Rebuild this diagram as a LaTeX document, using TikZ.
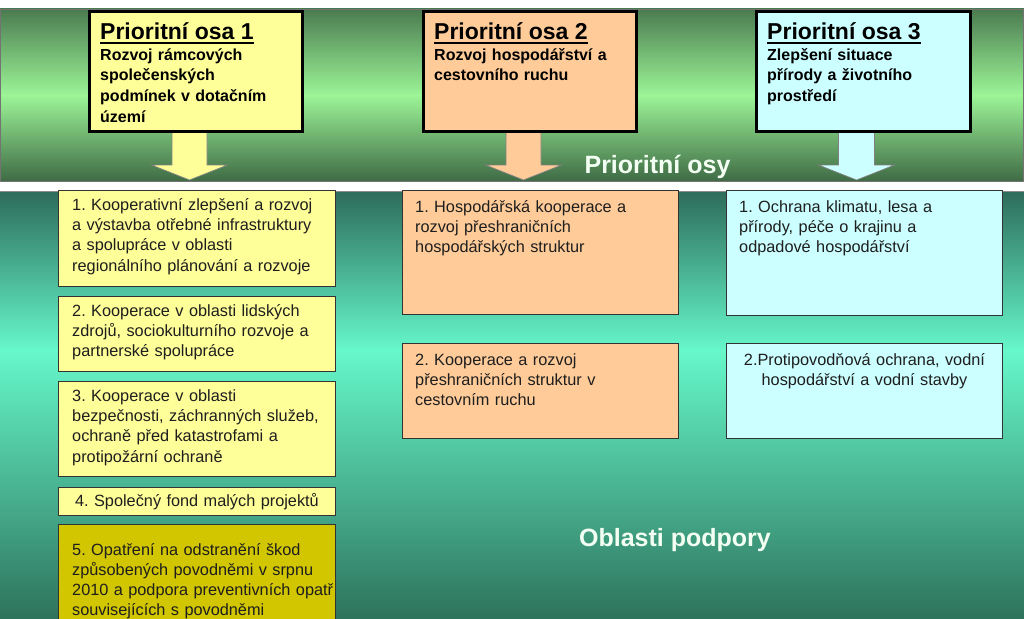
\documentclass[tikz,border=0pt]{standalone}
\usepackage{fontspec}
\setmainfont{Liberation Sans}
\usetikzlibrary{calc}
\frenchspacing
\definecolor{pyellow}{HTML}{FFFF99}
\definecolor{porange}{HTML}{FFCC99}
\definecolor{pcyan}{HTML}{CCFFFF}
\definecolor{pgold}{HTML}{D2C600}
\definecolor{gtop}{HTML}{4B7B50}
\definecolor{glight}{HTML}{9CF597}
\definecolor{gbot}{HTML}{3F6B45}
\definecolor{ttop}{HTML}{2D6C5A}
\definecolor{tlight}{HTML}{66F8CA}
\definecolor{tbot}{HTML}{2E735C}
\definecolor{txt}{HTML}{1E1E1E}
\definecolor{whitish}{HTML}{F4FFF4}
\begin{document}
\begin{tikzpicture}[x=1pt,y=-1pt,
  topbox/.style={draw=black, line width=3pt, anchor=north west, inner sep=0pt},
  lbox/.style={draw=black!80, line width=0.9pt, anchor=north west, inner sep=0pt},
  ttltext/.style={anchor=base west, inner sep=0pt, font=\fontsize{23}{27}\selectfont\bfseries},
  subtext/.style={anchor=base west, inner sep=0pt, align=left, text width=200pt,
    font=\fontsize{16}{20.7}\selectfont\bfseries},
  ltext/.style={anchor=base west, inner sep=0pt, align=left, text width=300pt, text=txt,
    font=\fontsize{16.3}{20.2}\selectfont},
  ctext/.style={anchor=base, inner sep=0pt, align=center, text width=276pt, text=txt,
    font=\fontsize{16.3}{20.2}\selectfont},
  bandlabel/.style={anchor=base, inner sep=0pt, text=whitish,
    font=\fontsize{25}{30}\selectfont\bfseries},
  barrow/.style={draw=black!50, line width=0.7pt},
  uline/.style={line width=1.8pt}
]
\useasboundingbox (0,0) rectangle (1024,618);
% top band
\shade[top color=gtop, bottom color=glight] (0,9) rectangle (1024,95.5);
\shade[top color=glight, bottom color=gbot] (0,95) rectangle (1024,181);
\draw[black!55, line width=0.7pt] (0.4,9) rectangle (1023.6,181);
% bottom band
\shade[top color=ttop, bottom color=tlight] (0,191) rectangle (1024,350.5);
\shade[top color=tlight, bottom color=tbot] (0,350) rectangle (1024,618);
\draw[black!45, line width=0.7pt] (0.4,191) -- (1023.6,191);

% lower boxes
\node[lbox, fill=pyellow, minimum width=277pt, minimum height=96pt] (b11) at (58,190) {};
\node[lbox, fill=pyellow, minimum width=277pt, minimum height=75pt] (b12) at (58,296) {};
\node[lbox, fill=pyellow, minimum width=277pt, minimum height=95pt] (b13) at (58,381) {};
\node[lbox, fill=pyellow, minimum width=277pt, minimum height=28pt] (b14) at (58,487) {};
\node[lbox, fill=pgold, minimum width=277pt, minimum height=110pt] (b15) at (58,524) {};
\node[lbox, fill=porange, minimum width=276pt, minimum height=124pt] (b21) at (402,190) {};
\node[lbox, fill=porange, minimum width=276pt, minimum height=95pt] (b22) at (402,343) {};
\node[lbox, fill=pcyan, minimum width=276pt, minimum height=125pt] (b31) at (726,190) {};
\node[lbox, fill=pcyan, minimum width=276pt, minimum height=95pt] (b32) at (726,343) {};

\node[ltext] (t11) at ($(b11.north west)+(14,20.5)$) {1. Kooperativní zlepšení a rozvoj\\a výstavba otřebné infrastruktury\\a spolupráce v oblasti\\regionálního plánování a rozvoje};
\node[ltext] (t12) at ($(b12.north west)+(14,20.5)$) {2. Kooperace v oblasti lidských\\zdrojů, sociokulturního rozvoje a\\partnerské spolupráce};
\node[ltext] (t13) at ($(b13.north west)+(14,20.5)$) {3. Kooperace v oblasti\\bezpečnosti, záchranných služeb,\\ochraně před katastrofami a\\protipožární ochraně};
\node[ctext] (t14) at ($(b14.north)+(0,19.5)$) {4. Společný fond malých projektů};
\node[ltext] (t15) at ($(b15.north west)+(14,31)$) {5. Opatření na odstranění škod\\způsobených povodněmi v srpnu\\2010 a podpora preventivních opatř\\souvisejících s povodněmi};
\node[ltext] (t21) at ($(b21.north west)+(13,22)$) {1. Hospodářská kooperace a\\rozvoj přeshraničních\\hospodářských struktur};
\node[ltext] (t22) at ($(b22.north west)+(13,22)$) {2. Kooperace a rozvoj\\přeshraničních struktur v\\cestovním ruchu};
\node[ltext] (t31) at ($(b31.north west)+(13,22)$) {1. Ochrana klimatu, lesa a\\přírody, péče o krajinu a\\odpadové hospodářství};
\node[ctext] (t32) at ($(b32.north)+(0,22)$) {2.Protipovodňová ochrana, vodní\\hospodářství a vodní stavby};

% band labels
\node[bandlabel] (osy) at (657.5,173) {Prioritní osy};
\node[bandlabel] (podpora) at (675,546) {Oblasti podpory};

% arrows (drawn before boxes so the borders cover their tops)
\coordinate (a1) at (194,129.5);
\coordinate (a2) at (528,129.5);
\coordinate (a3) at (861.5,129.5);
\draw[barrow, fill=pyellow] ($(a1)+(-22,0)$) -- ++(0,35.5) -- ++(-20.5,0) -- ++(38,15) -- ++(38,-15) -- ++(-20.5,0) -- ++(0,-35.5) -- cycle;
\draw[barrow, fill=porange] ($(a2)+(-22,0)$) -- ++(0,35.5) -- ++(-20.5,0) -- ++(38,15) -- ++(38,-15) -- ++(-20.5,0) -- ++(0,-35.5) -- cycle;
\draw[barrow, fill=pcyan] ($(a3)+(-23,0)$) -- ++(0,35.5) -- ++(-20,0) -- ++(38,15) -- ++(38,-15) -- ++(-20,0) -- ++(0,-35.5) -- cycle;

% top boxes
\node[topbox, fill=pyellow, minimum width=213pt, minimum height=119pt] (p1) at (87.5,10.5) {};
\node[topbox, fill=porange, minimum width=213pt, minimum height=119pt] (p2) at (421.5,10.5) {};
\node[topbox, fill=pcyan, minimum width=214pt, minimum height=119pt] (p3) at (754.5,10.5) {};

\node[ttltext] (h1) at ($(p1.north west)+(12.5,29)$) {Prioritní osa 1};
\node[ttltext] (h2) at ($(p2.north west)+(12.5,29)$) {Prioritní osa 2};
\node[ttltext] (h3) at ($(p3.north west)+(12.5,29)$) {Prioritní osa 3};
\foreach \h in {h1,h2,h3}
  \draw[uline] ([yshift=-3.2pt]\h.base west) -- ([yshift=-3.2pt]\h.base east);

\node[subtext] (s1) at ($(p1.north west)+(12.5,49.5)$) {Rozvoj rámcových\\společenských\\podmínek v dotačním\\území};
\node[subtext] (s2) at ($(p2.north west)+(12.5,49.5)$) {Rozvoj hospodářství a\\cestovního ruchu};
\node[subtext] (s3) at ($(p3.north west)+(12.5,49.5)$) {Zlepšení situace\\přírody a životního\\prostředí};
\end{tikzpicture}
\end{document}
